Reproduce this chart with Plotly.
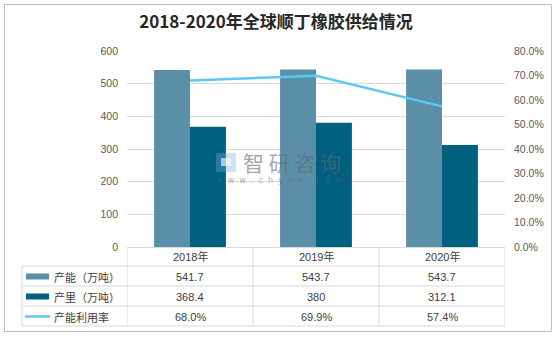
import plotly.graph_objects as go

# Data
years = ["2018年", "2019年", "2020年"]
capacity = [541.7, 543.7, 543.7]      # 产能（万吨）
output = [368.4, 380, 312.1]          # 产量（万吨）
utilization = [68.0, 69.9, 57.4]      # 产能利用率（%）

series_names = ["产能（万吨）", "产里（万吨）", "产能利用率"]
left_ticks = [0, 100, 200, 300, 400, 500, 600]
right_ticks = [0, 10, 20, 30, 40, 50, 60, 70, 80]

W, H = 555, 337
C_CAP = "#5b8fa8"
C_OUT = "#00607f"
C_LINE = "#5bc8f5"
GRID = "#d9d9d9"
TXT = "#404040"
FONT = "Liberation Sans, Noto Sans CJK SC, sans-serif"

def px(x):
    return x / W

def py(y):
    return 1 - y / H

x_idx = list(range(len(years)))

fig = go.Figure()
fig.add_trace(go.Bar(x=x_idx, y=capacity, name=series_names[0],
                     marker=dict(color=C_CAP, line=dict(width=0))))
fig.add_trace(go.Bar(x=x_idx, y=output, name=series_names[1],
                     marker=dict(color=C_OUT, line=dict(width=0))))
fig.add_trace(go.Scatter(x=x_idx, y=utilization, name=series_names[2], yaxis="y2",
                         mode="lines", line=dict(color=C_LINE, width=2.5)))

plot_l, plot_r, plot_t, plot_b = 127, 505, 51, 247

fig.update_layout(
    template="none",
    width=W, height=H,
    margin=dict(l=0, r=0, t=0, b=0, pad=0, autoexpand=False),
    paper_bgcolor="white", plot_bgcolor="white",
    showlegend=False,
    barmode="group", bargap=0.43, bargroupgap=0,
    font=dict(family=FONT, size=11, color=TXT),
    title=dict(text="<b>2018-2020年全球顺丁橡胶供给情况</b>",
               x=px(276), xanchor="center", y=py(22), yanchor="middle",
               font=dict(family="Noto Sans CJK SC, sans-serif", size=17, color="#262626")),
    xaxis=dict(domain=[px(plot_l), px(plot_r)], range=[-0.5, len(years) - 0.5],
               automargin=False,
               showticklabels=False, showgrid=False, zeroline=False,
               showline=True, linecolor=GRID, linewidth=1, ticks=""),
    yaxis=dict(domain=[py(plot_b), py(plot_t)], range=[0, 600], automargin=False,
               tickmode="array", tickvals=left_ticks,
               ticktext=[str(v) for v in left_ticks],
               showgrid=True, gridcolor=GRID, gridwidth=1,
               zeroline=False, showline=False, ticks="",
               ticklabelstandoff=8,
               tickfont=dict(size=10.5, color="#595959")),
    yaxis2=dict(overlaying="y", side="right", range=[0, 80], automargin=False,
                tickmode="array", tickvals=right_ticks,
                ticktext=[f"{v:.1f}%" for v in right_ticks],
                showgrid=False, zeroline=False, showline=False, ticks="",
                ticklabelstandoff=8,
                tickfont=dict(size=10.5, color="#595959")),
)

shapes = []
ann = []

# Outer chart border
shapes.append(dict(type="rect", xref="paper", yref="paper",
                   x0=px(4.5), x1=px(551.5), y0=py(331.5), y1=py(4.5),
                   line=dict(color="#bfbfbf", width=1), layer="below"))

# Data table under the plot
row_lines = [266, 286, 306, 326]
for y in row_lines:
    shapes.append(dict(type="line", xref="paper", yref="paper",
                       x0=px(22), x1=px(plot_r), y0=py(y), y1=py(y),
                       line=dict(color=GRID, width=1)))
shapes.append(dict(type="line", xref="paper", yref="paper",
                   x0=px(22), x1=px(22), y0=py(266), y1=py(326),
                   line=dict(color=GRID, width=1)))
for b in [i - 0.5 for i in range(len(years) + 1)]:
    shapes.append(dict(type="line", xref="x", yref="paper",
                       x0=b, x1=b, y0=py(plot_b), y1=py(326),
                       line=dict(color=GRID, width=1)))

# Header row: category labels
for i, yr in enumerate(years):
    ann.append(dict(x=i, y=py(256.5), xref="x", yref="paper", text=yr,
                    showarrow=False, xanchor="center", yanchor="middle",
                    font=dict(size=11, color=TXT)))

row_centers = [276.5, 296.5, 316.5]
row_values = [
    [f"{v:g}" for v in capacity],
    [f"{v:g}" for v in output],
    [f"{v:.1f}%" for v in utilization],
]
for r, (yc, vals) in enumerate(zip(row_centers, row_values)):
    for i, t in enumerate(vals):
        ann.append(dict(x=i, y=py(yc), xref="x", yref="paper", text=t,
                        showarrow=False, xanchor="center", yanchor="middle",
                        font=dict(size=11, color=TXT)))
    ann.append(dict(x=px(52), y=py(yc), xref="paper", yref="paper",
                    text=series_names[r], showarrow=False,
                    xanchor="left", yanchor="middle",
                    font=dict(family="Noto Sans CJK SC, sans-serif", size=11, color=TXT)))

# Legend keys in the table
shapes.append(dict(type="rect", xref="paper", yref="paper",
                   x0=px(26), x1=px(49), y0=py(279.5), y1=py(273.5),
                   fillcolor=C_CAP, line=dict(width=0)))
shapes.append(dict(type="rect", xref="paper", yref="paper",
                   x0=px(26), x1=px(49), y0=py(299.5), y1=py(293.5),
                   fillcolor=C_OUT, line=dict(width=0)))
shapes.append(dict(type="line", xref="paper", yref="paper",
                   x0=px(25), x1=px(50), y0=py(316.5), y1=py(316.5),
                   line=dict(color=C_LINE, width=2.5)))

# Watermark
ann.append(dict(x=px(292), y=py(162), xref="paper", yref="paper",
                text="智 研 咨 询",
                showarrow=False, xanchor="center", yanchor="middle",
                font=dict(family="Noto Sans CJK SC, sans-serif", size=21,
                          color="rgba(95,105,115,0.6)")))
ann.append(dict(x=px(279), y=py(180.5), xref="paper", yref="paper",
                text="w  w  w  .  c  h  y  x  x  .  c  o  m",
                showarrow=False, xanchor="center", yanchor="middle",
                font=dict(family="DejaVu Sans, sans-serif", size=8,
                          color="rgba(95,105,115,0.55)")))
shapes.append(dict(type="rect", xref="paper", yref="paper",
                   x0=px(216), x1=px(236), y0=py(172), y1=py(153),
                   fillcolor="rgba(120,170,220,0.35)", line=dict(width=0)))
shapes.append(dict(type="rect", xref="paper", yref="paper",
                   x0=px(221), x1=px(231), y0=py(166), y1=py(158),
                   fillcolor="rgba(255,255,255,0.6)", line=dict(width=0)))

fig.update_layout(shapes=shapes, annotations=ann)

fig.write_html("out.html")
